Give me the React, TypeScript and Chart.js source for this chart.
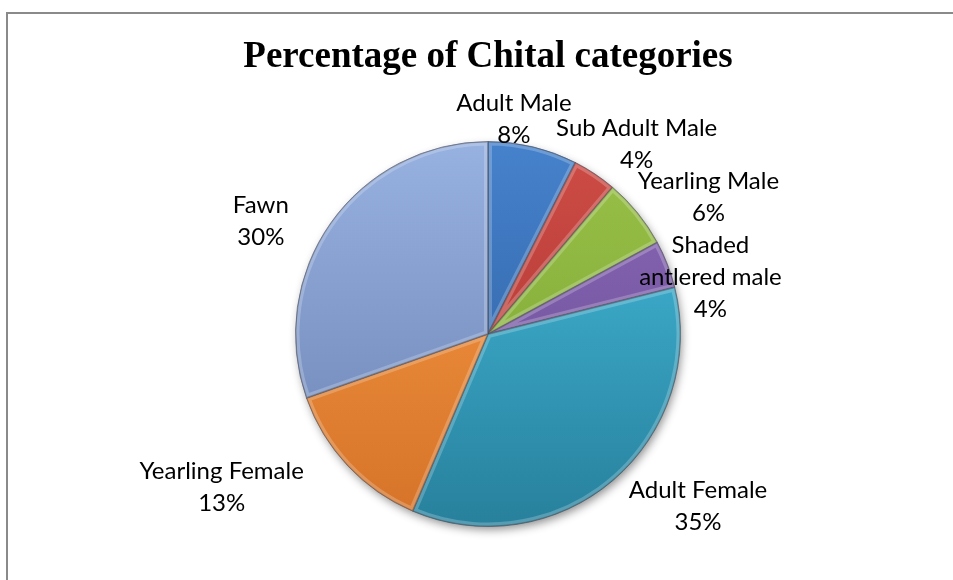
import React, { useEffect, useRef } from 'react';
import { Chart, registerables } from 'chart.js';

Chart.register(...registerables);

// ---- data ----
const TITLE = 'Percentage of Chital categories';
const categories = [
  'Adult Male',
  'Sub Adult Male',
  'Yearling Male',
  'Shaded antlered male',
  'Adult Female',
  'Yearling Female',
  'Fawn',
];
const shares = [7.5, 3.7, 5.9, 4.0, 35.3, 13.2, 30.4];

// ---- style / layout ----
const TOP_COLORS = ['#4682CC', '#CE4C46', '#9AC249', '#8B6AB8', '#46BEDF', '#F89C45', '#97B1E0'];
const BOTTOM_COLORS = ['#2A5A9A', '#A8322E', '#76A030', '#654890', '#27809C', '#D57228', '#6A81B2'];
// label block centre offsets from each slice's outer mid-point
const LABEL_OFFSETS: [number, number][] = [
  [-19, -28],
  [42, -30],
  [71, -15],
  [43, 13],
  [85, 26],
  [-126, 21],
  [-70, -2],
];
const WRAP_AFTER_WORD: Record<number, number> = { 3: 1 };
const LABEL_FONT = '24px Lato';
const LINE_H = 32;

export default function App() {
  const ref = useRef<HTMLCanvasElement>(null);

  useEffect(() => {
    const total = shares.reduce((a, b) => a + b, 0);

    const shadowPlugin = {
      id: 'pieShadow',
      beforeDatasetsDraw(chart: any) {
        const el = chart.getDatasetMeta(0).data[0];
        if (!el) return;
        const { x, y, outerRadius } = el.getProps(['x', 'y', 'outerRadius'], true);
        const ctx = chart.ctx;
        ctx.save();
        ctx.shadowColor = 'rgba(0,0,0,0.45)';
        ctx.shadowBlur = 10;
        ctx.shadowOffsetX = 2;
        ctx.shadowOffsetY = 4;
        ctx.fillStyle = '#ffffff';
        ctx.beginPath();
        ctx.arc(x, y, outerRadius - 1, 0, Math.PI * 2);
        ctx.fill();
        ctx.restore();
      },
      afterDatasetsDraw(chart: any) {
        // soft bevel: light inner rim on every slice
        const ctx = chart.ctx;
        chart.getDatasetMeta(0).data.forEach((el: any) => {
          const { x, y, startAngle, endAngle, outerRadius } = el.getProps(
            ['x', 'y', 'startAngle', 'endAngle', 'outerRadius'],
            true
          );
          ctx.save();
          ctx.beginPath();
          ctx.moveTo(x, y);
          ctx.arc(x, y, outerRadius, startAngle, endAngle);
          ctx.closePath();
          ctx.clip();
          ctx.lineJoin = 'round';
          ctx.strokeStyle = 'rgba(255,255,255,0.22)';
          ctx.lineWidth = 8;
          ctx.stroke();
          ctx.strokeStyle = 'rgba(0,0,0,0.18)';
          ctx.lineWidth = 2;
          ctx.stroke();
          ctx.restore();
        });
      },
    };

    const labelPlugin = {
      id: 'labelsAndTitle',
      afterDraw(chart: any) {
        const ctx = chart.ctx;
        ctx.save();
        // title
        ctx.fillStyle = '#000';
        ctx.font = 'bold 37px "Liberation Serif", "Times New Roman", serif';
        ctx.textAlign = 'center';
        ctx.textBaseline = 'alphabetic';
        ctx.fillText(TITLE, 488, 67);

        // data labels
        ctx.font = LABEL_FONT;
        ctx.textBaseline = 'middle';
        const meta = chart.getDatasetMeta(0);
        meta.data.forEach((el: any, i: number) => {
          const { x, y, startAngle, endAngle, outerRadius } = el.getProps(
            ['x', 'y', 'startAngle', 'endAngle', 'outerRadius'],
            true
          );
          const mid = (startAngle + endAngle) / 2;
          const ax = x + Math.cos(mid) * outerRadius;
          const ay = y + Math.sin(mid) * outerRadius;
          const cx = ax + LABEL_OFFSETS[i][0];
          const cy = ay + LABEL_OFFSETS[i][1];
          const name = categories[i];
          let lines: string[] = [name];
          if (WRAP_AFTER_WORD[i] !== undefined) {
            const words = name.split(' ');
            const k = WRAP_AFTER_WORD[i];
            lines = [words.slice(0, k).join(' '), words.slice(k).join(' ')];
          }
          lines.push(Math.round((shares[i] / total) * 100) + '%');
          const h = lines.length * LINE_H;
          lines.forEach((ln, j) => {
            ctx.fillText(ln, cx, cy - h / 2 + LINE_H * (j + 0.5));
          });
        });
        ctx.restore();
      },
    };

    const chart = new Chart(ref.current as HTMLCanvasElement, {
      type: 'pie',
      data: {
        labels: categories,
        datasets: [
          {
            data: shares,
            backgroundColor: (c: any) => {
              const i = c.dataIndex;
              const area = c.chart.chartArea;
              if (!area) return TOP_COLORS[i];
              const g = c.chart.ctx.createLinearGradient(0, area.top, 0, area.bottom);
              g.addColorStop(0, TOP_COLORS[i]);
              g.addColorStop(1, BOTTOM_COLORS[i]);
              return g;
            },
            borderColor: 'rgba(30,30,50,0.45)',
            borderWidth: 1,
          },
        ],
      },
      options: {
        responsive: false,
        animation: false,
        layout: { padding: { left: 295, right: 272, top: 140, bottom: 52 } },
        plugins: {
          legend: { display: false },
          title: { display: false },
          tooltip: { enabled: false },
        },
      },
      plugins: [shadowPlugin, labelPlugin],
    } as any);
    return () => chart.destroy();
  }, []);

  return (
    <div style={{ position: 'fixed', left: 0, top: 0, width: 953, height: 580, background: '#fff', overflow: 'hidden' }}>
      <div
        style={{
          position: 'absolute',
          left: 6,
          top: 12,
          width: 960,
          height: 600,
          borderTop: '2px solid #8a8a8a',
          borderLeft: '2px solid #8a8a8a',
          boxSizing: 'border-box',
        }}
      />
      <canvas
        ref={ref}
        width={953}
        height={580}
        style={{ position: 'absolute', left: 0, top: 0, width: 953, height: 580 }}
      />
    </div>
  );
}
